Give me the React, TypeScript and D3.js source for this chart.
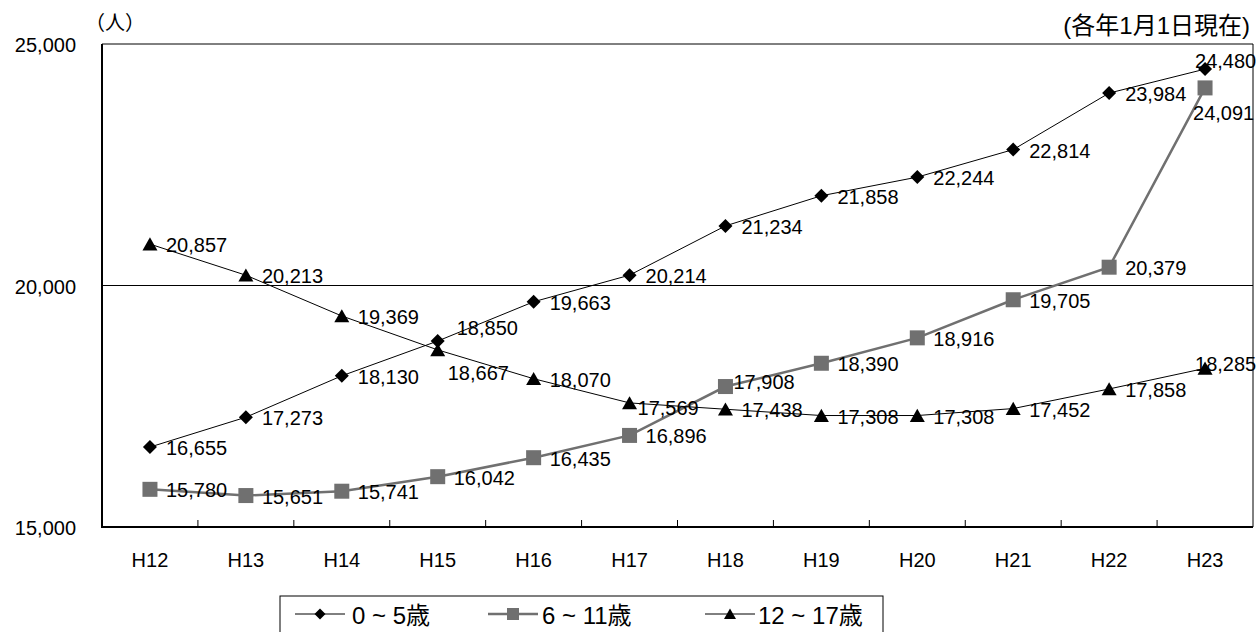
import React from "react";
import * as d3 from "d3";

const categories = ["H12", "H13", "H14", "H15", "H16", "H17", "H18", "H19", "H20", "H21", "H22", "H23"];
const age0to5 = [16655, 17273, 18130, 18850, 19663, 20214, 21234, 21858, 22244, 22814, 23984, 24480];
const age6to11 = [15780, 15651, 15741, 16042, 16435, 16896, 17908, 18390, 18916, 19705, 20379, 24091];
const age12to17 = [20857, 20213, 19369, 18667, 18070, 17569, 17438, 17308, 17308, 17452, 17858, 18285];
const yTicks = [15000, 20000, 25000];
const seriesNames = ["0 ~ 5歳", "6 ~ 11歳", "12 ~ 17歳"];

const W = 1257;
const H = 632;
const M = { left: 102, top: 44, right: 1253, bottom: 527 };
const FONT = "'Liberation Sans', Arial, 'Noto Sans CJK JP', sans-serif";
const GRAY = "#707070";

type Shape = "diamond" | "square" | "triangle";

const series: { name: string; values: number[]; color: string; width: number; shape: Shape }[] = [
  { name: seriesNames[0], values: age0to5, color: "#000", width: 1, shape: "diamond" },
  { name: seriesNames[1], values: age6to11, color: GRAY, width: 2.5, shape: "square" },
  { name: seriesNames[2], values: age12to17, color: "#000", width: 1, shape: "triangle" },
];

// label placement adjustments (layout only): key "series-index" -> [dx, dy]
const labelAdjust: Record<string, [number, number]> = {
  "0-3": [19, -14],
  "2-3": [10, 22],
  "0-11": [-10, -9],
  "1-11": [-12, 24],
  "2-11": [-10, -5],
  "2-5": [8, 4],
  "1-6": [8, -6],
};

function Marker({ shape, x, y, size, color }: { shape: Shape; x: number; y: number; size: number; color: string }) {
  const h = size / 2;
  if (shape === "diamond") {
    return <path d={`M${x},${y - h}L${x + h},${y}L${x},${y + h}L${x - h},${y}Z`} fill={color} />;
  }
  if (shape === "square") {
    return <rect x={x - h} y={y - h} width={size} height={size} fill={color} />;
  }
  return <path d={`M${x},${y - h * 0.9}L${x + h},${y + h * 0.85}L${x - h},${y + h * 0.85}Z`} fill={color} />;
}

export default function App() {
  const x = d3.scaleBand<string>().domain(categories).range([M.left, M.right]);
  const y = d3.scaleLinear().domain([15000, 25000]).range([M.bottom, M.top]);
  const cx = (c: string) => (x(c) ?? 0) + x.bandwidth() / 2;
  const fmt = d3.format(",");
  const line = d3
    .line<number>()
    .x((_, i) => cx(categories[i]))
    .y((v) => y(v));

  const legendItems = [
    { lx: 295, tx: 352 },
    { lx: 488, tx: 542 },
    { lx: 705, tx: 758 },
  ];

  return (
    <svg
      width={W}
      height={H}
      style={{ position: "absolute", left: 0, top: 0, background: "#fff" }}
      fontFamily={FONT}
    >
      <rect x={0} y={0} width={W} height={H} fill="#fff" />
      {/* plot frame */}
      <line x1={M.left} x2={M.right} y1={M.top} y2={M.top} stroke="#000" strokeWidth={1} />
      <line x1={M.right} x2={M.right} y1={M.top} y2={M.bottom} stroke="#000" strokeWidth={1} />
      {yTicks
        .filter((t) => t !== 15000 && t !== 25000)
        .map((t) => (
          <line key={t} x1={M.left} x2={M.right} y1={y(t)} y2={y(t)} stroke="#000" strokeWidth={1} />
        ))}
      <line x1={M.left} x2={M.left} y1={M.top} y2={M.bottom + 1} stroke="#000" strokeWidth={2} />
      <line x1={M.left} x2={M.right} y1={M.bottom} y2={M.bottom} stroke="#000" strokeWidth={2} />
      {categories.slice(1).map((c) => (
        <line key={c} x1={x(c)} x2={x(c)} y1={M.bottom} y2={M.bottom - 7} stroke="#000" strokeWidth={1} />
      ))}
      {/* y labels */}
      {yTicks.map((t) => (
        <text key={t} x={76} y={y(t) + 1} fontSize={20} textAnchor="end" dominantBaseline="central">
          {fmt(t)}
        </text>
      ))}
      {/* x labels */}
      {categories.map((c) => (
        <text key={c} x={cx(c)} y={560} fontSize={20} textAnchor="middle" dominantBaseline="central">
          {c}
        </text>
      ))}
      <text x={85} y={23} fontSize={20} dominantBaseline="central">
        （人）
      </text>
      <text x={1250} y={25} fontSize={24} textAnchor="end" dominantBaseline="central">
        (各年1月1日現在)
      </text>
      {/* series */}
      {series.map((s) => (
        <g key={s.name}>
          <path d={line(s.values) ?? ""} fill="none" stroke={s.color} strokeWidth={s.width} />
        </g>
      ))}
      {series.map((s) => (
        <g key={s.name + "m"}>
          {s.values.map((v, i) => (
            <Marker
              key={i}
              shape={s.shape}
              x={cx(categories[i])}
              y={y(v)}
              size={s.shape === "diamond" ? 14 : 15}
              color={s.color}
            />
          ))}
        </g>
      ))}
      {series.map((s, si) => (
        <g key={s.name + "l"}>
          {s.values.map((v, i) => {
            const adj = labelAdjust[`${si}-${i}`] ?? [16, 0];
            return (
              <text
                key={i}
                x={cx(categories[i]) + adj[0]}
                y={y(v) + adj[1] + 1}
                fontSize={20}
                dominantBaseline="central"
              >
                {fmt(v)}
              </text>
            );
          })}
        </g>
      ))}
      {/* legend */}
      <rect x={280} y={596} width={603} height={50} fill="#fff" stroke="#000" strokeWidth={1} />
      {series.map((s, si) => {
        const it = legendItems[si];
        const ly = 614;
        return (
          <g key={s.name + "lg"}>
            <line x1={it.lx} x2={it.lx + 50} y1={ly} y2={ly} stroke={s.color} strokeWidth={s.width} />
            <Marker shape={s.shape} x={it.lx + 25} y={ly} size={s.shape === "diamond" ? 11 : 12} color={s.color} />
            <text x={it.tx} y={ly + 1} fontSize={24} dominantBaseline="central">
              {s.name}
            </text>
          </g>
        );
      })}
    </svg>
  );
}
